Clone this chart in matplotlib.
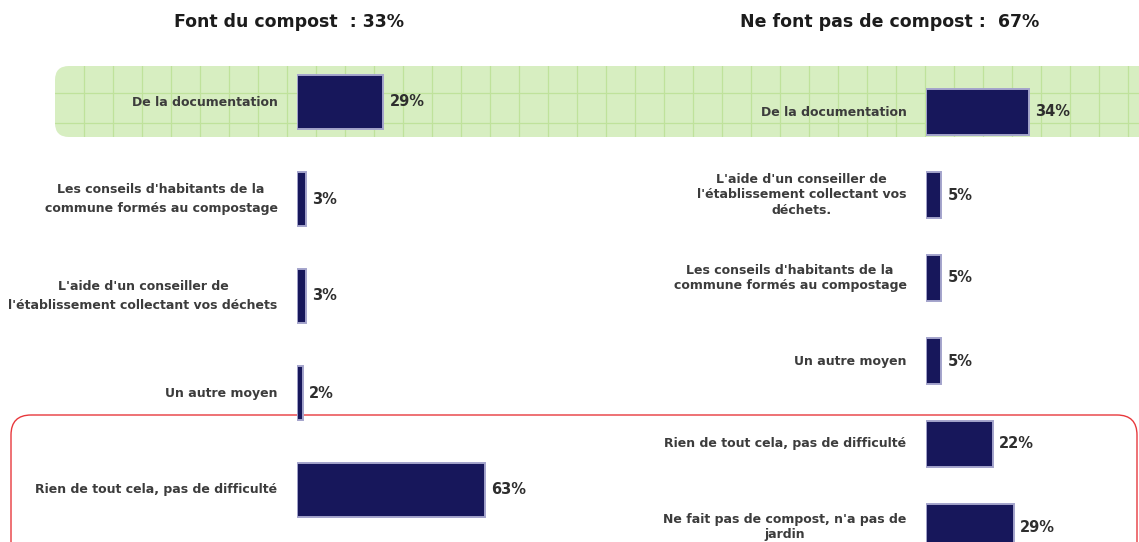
import matplotlib
matplotlib.use("Agg")
import matplotlib.pyplot as plt
from matplotlib.patches import FancyBboxPatch

# ---- data -------------------------------------------------------------
title_left = "Font du compost  : 33%"
title_right = "Ne font pas de compost :  67%"

cats_left = [
    "De la documentation",
    "Les conseils d'habitants de la\ncommune formés au compostage",
    "L'aide d'un conseiller de\nl'établissement collectant vos déchets",
    "Un autre moyen",
    "Rien de tout cela, pas de difficulté",
]
vals_left = [29, 3, 3, 2, 63]

cats_right = [
    "De la documentation",
    "L'aide d'un conseiller de\nl'établissement collectant vos\ndéchets.",
    "Les conseils d'habitants de la\ncommune formés au compostage",
    "Un autre moyen",
    "Rien de tout cela, pas de difficulté",
    "Ne fait pas de compost, n'a pas de\njardin",
]
vals_right = [34, 5, 5, 5, 22, 29]

# ---- styling ----------------------------------------------------------
W, H = 1139, 542
BAR = "#17175b"
BAR_EDGE = "#a4a4cc"
LABEL = "#3c3c3c"
VALUE = "#2e2e2e"

plt.rcParams["font.family"] = ["DejaVu Sans"]
fig = plt.figure(figsize=(W / 100, H / 100), dpi=100)

# background layer in pixel coordinates
bg = fig.add_axes([0, 0, 1, 1], zorder=0)
bg.set_xlim(0, W)
bg.set_ylim(H, 0)
bg.axis("off")

# highlighted first row: green rounded panel with a fine grid
green = FancyBboxPatch((55, 66), 1110, 71,
                       boxstyle="round,pad=0,rounding_size=14",
                       facecolor="#d7eec1", edgecolor="none")
bg.add_patch(green)
for gx in range(84, 1170, 29):
    ln = bg.plot([gx, gx], [60, 145], color="#bfe29b", lw=0.9)[0]
    ln.set_clip_path(green)
for gy in (93, 123):
    ln = bg.plot([40, 1170], [gy, gy], color="#bfe29b", lw=0.9)[0]
    ln.set_clip_path(green)

# red frame around the last rows
red = FancyBboxPatch((11, 415), 1126, 160,
                     boxstyle="round,pad=0,rounding_size=20",
                     facecolor="none", edgecolor="#e8383c", lw=1.0)
bg.add_patch(red)

# titles
bg.text(289, 22, title_left, ha="center", va="center",
        fontsize=12.5, fontweight="bold", color="#1c1c1c")
bg.text(890, 22, title_right, ha="center", va="center",
        fontsize=12.5, fontweight="bold", color="#1c1c1c")


def panel(rect, cats, vals, ls):
    ax = fig.add_axes(rect, zorder=2)
    ax.patch.set_alpha(0)
    n = len(cats)
    ax.set_xlim(0, 100)
    ax.set_ylim(n - 0.5, -0.5)
    ax.axis("off")
    ys = list(range(n))
    ax.barh(ys, vals, height=0.56, color=BAR, edgecolor=BAR_EDGE, lw=1.4)
    for y, c, v in zip(ys, cats, vals):
        ax.annotate(c, xy=(0, y), xytext=(-14, 0), textcoords="offset points",
                    ha="right", va="center", multialignment="center",
                    fontsize=9, fontweight="bold", color=LABEL,
                    linespacing=ls, annotation_clip=False)
        ax.annotate(f"{v}%", xy=(v, y), xytext=(4.5, 0),
                    textcoords="offset points", ha="left", va="center",
                    fontsize=10.5, fontweight="bold", color=VALUE,
                    annotation_clip=False)
    return ax


# left panel: 0 % at x=297 px, about 2.98 px per percent
panel([297 / W, 1 - 538.5 / H, 298 / W, 485 / H], cats_left, vals_left, 1.6)
# right panel: 0 % at x=926 px, about 3.03 px per percent
panel([926 / W, 1 - 568.5 / H, 303 / W, 498 / H], cats_right, vals_right, 1.25)

fig.savefig("out.png", dpi=100)
